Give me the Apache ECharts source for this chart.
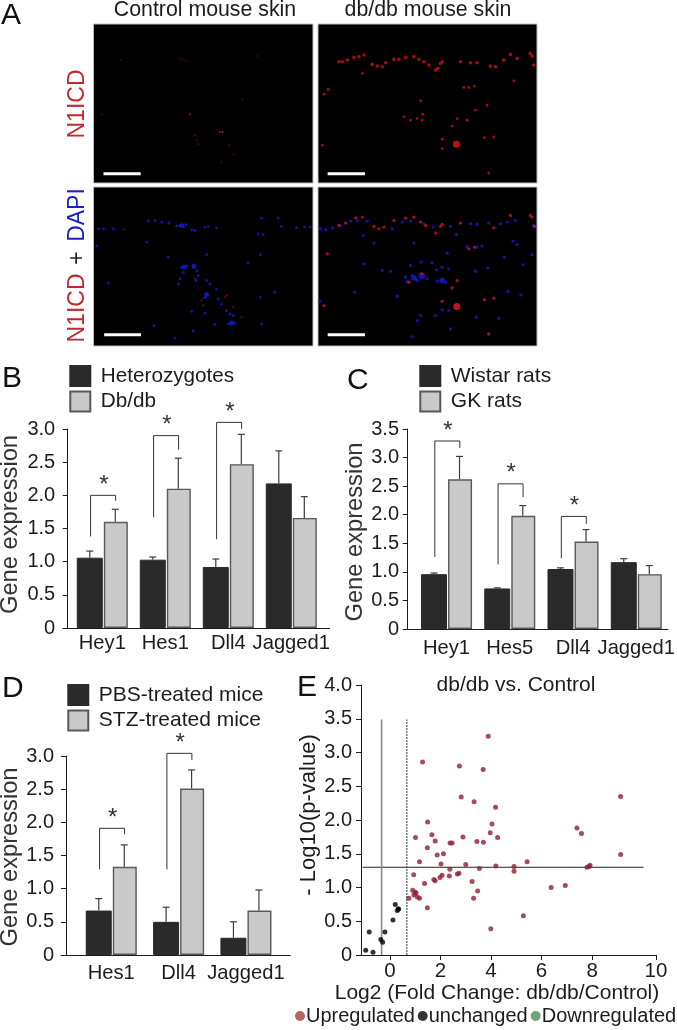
<!DOCTYPE html>
<html><head><meta charset="utf-8">
<style>html,body{margin:0;padding:0;background:#fff}#c{width:677px;height:1030px}</style>
<script src="https://cdn.jsdelivr.net/npm/echarts@6/dist/echarts.min.js"></script>
</head><body><div id="c"></div>
<script>
// ---- Panel B
const catsB = ['Hey1','Hes1','Dll4','Jagged1'];
const hetero = [1.06,1.03,0.92,2.18];
const heteroErr = [1.16,1.07,1.04,2.67];
const dbdb = [1.60,2.10,2.47,1.66];
const dbdbErr = [1.79,2.56,2.92,1.98];
const bracketsB = [[0,1.38,2.00,1.92],[1,1.67,2.90,2.69],[2,1.34,3.10,3.00]];
// ---- Panel C
const catsC = ['Hey1','Hes5','Dll4','Jagged1'];
const wistar = [0.96,0.71,1.05,1.17];
const wistarErr = [0.98,0.72,1.07,1.23];
const gk = [2.62,1.98,1.53,0.96];
const gkErr = [3.02,2.16,1.74,1.11];
const bracketsC = [[0,1.26,3.29,3.17],[1,1.13,2.54,2.31],[2,1.24,1.97,1.84]];
// ---- Panel D
const catsD = ['Hes1','Dll4','Jagged1'];
const pbs = [0.67,0.50,0.26];
const pbsErr = [0.85,0.72,0.50];
const stz = [1.33,2.51,0.67];
const stzErr = [1.66,2.79,0.98];
const bracketsD = [[0,1.29,1.91,1.82],[1,1.29,3.04,2.94]];
// ---- Panel E
const upregulated = [[9.13,2.35],[3.89,3.24],[1.29,2.86],[2.75,2.80],[3.69,2.75],[2.82,2.34],[3.33,2.27],[4.18,2.19],[1.49,1.97],[4.04,1.94],[3.97,1.81],[7.40,1.88],[7.58,1.80],[1.66,1.78],[1.01,1.74],[2.89,1.75],[4.26,1.74],[1.79,1.69],[3.44,1.68],[3.70,1.67],[2.38,1.66],[2.46,1.66],[1.48,1.59],[1.87,1.48],[2.12,1.50],[9.13,1.49],[1.17,1.38],[2.02,1.35],[3.00,1.34],[5.43,1.38],[4.19,1.32],[4.91,1.31],[3.54,1.28],[2.37,1.27],[7.88,1.31],[7.92,1.33],[7.80,1.30],[4.91,1.24],[0.94,1.19],[2.06,1.18],[1.98,1.15],[2.35,1.17],[2.67,1.20],[2.73,1.21],[1.74,1.12],[1.79,1.10],[3.25,1.09],[1.37,1.06],[3.47,0.95],[6.94,1.03],[6.38,1.00],[0.90,0.96],[1.00,0.93],[1.03,0.92],[0.95,0.89],[0.75,0.84],[1.09,0.86],[1.17,0.84],[3.31,0.84],[1.48,0.70],[5.28,0.58],[3.99,0.39]];
const unchanged = [[0.21,0.75],[0.34,0.68],[0.29,0.66],[0.33,0.68],[0.12,0.52],[-0.20,0.34],[-0.82,0.34],[-0.36,0.23],[-0.29,0.19],[-0.96,0.07],[-0.67,0.04]];
const downregulated = [];
const pThreshold = [[-1.08,1.30],[10.04,1.30]];
const foldLow = [[-0.33,0],[-0.33,3.49]];
const foldHigh = [[0.67,0],[0.67,3.49]];
const xTicksE = [0,2,4,6,8,10.53];
// ---- Panel A: fluorescent spots (zoomed picture units)
const tlDim = [[182,120],[360,115],[370,118],[380,122],[590,108],[405,345],[410,360],[415,372],[470,332],[508,375],[522,403],[485,425],[125,282],[548,238]];
const tlRed = [[480,335],[488,335],[390,282]];
const trEpidermis = [[75,125],[85,125],[100,120],[120,112],[135,110],[150,105],[175,133],[190,138],[205,140],[215,128],[240,118],[255,118],[275,112],[300,110],[315,118],[330,125],[345,135],[365,150],[380,130],[385,125],[372,145],[440,125],[470,128],[490,128],[530,138],[545,140],[570,120],[590,103],[610,115],[650,100],[655,108],[660,135]];
const trRed = [[450,202],[465,202],[482,198],[30,222],[42,208],[320,242],[270,290],[290,300],[310,295],[327,282],[325,300],[520,255],[485,270],[430,295],[460,300],[415,318],[385,357],[385,385],[512,352],[540,350],[525,458],[25,375],[600,182],[145,160]];
const trBlob = [[428,372]];
const blRed = [[190,137],[405,285],[500,335],[545,400],[425,350],[430,365],[495,340],[520,370]];
const blBlue = [[115,135],[130,135],[160,135],[265,112],[285,110],[305,115],[327,118],[350,127],[360,125],[370,128],[378,122],[395,138],[405,140],[435,130],[445,128],[470,132],[605,103],[655,103],[665,128],[710,132],[735,130],[752,130],[595,150],[610,152],[260,175],[110,187],[325,220],[440,212],[602,212],[565,237],[145,297],[365,250],[380,245],[400,245],[410,260],[370,265],[360,285],[355,300],[415,275],[408,290],[440,290],[450,300],[470,315],[440,330],[435,340],[475,345],[485,360],[500,380],[510,390],[520,395],[515,415],[525,418],[505,420],[435,388],[395,382],[602,340],[605,420],[465,422],[400,440],[345,462],[282,425],[645,325]];
const blBlueCore = [[365,125],[372,250],[402,248],[440,332],[515,417]];
const brRed = [[75,125],[95,118],[125,102],[145,100],[180,128],[195,135],[210,130],[240,110],[275,103],[300,100],[320,115],[335,125],[365,148],[380,128],[385,122],[440,118],[540,132],[590,95],[650,95],[655,100],[662,128],[465,195],[482,190],[325,270],[285,295],[430,290],[415,312],[540,343],[512,347],[385,352],[525,450],[40,210],[30,365]];
const brBlob = [[429,368]];
const brBlue = [[20,135],[35,138],[55,132],[80,125],[110,112],[130,110],[160,112],[235,135],[265,115],[290,112],[330,120],[358,130],[410,128],[470,120],[490,122],[525,118],[560,120],[580,115],[605,110],[660,125],[148,155],[428,152],[300,178],[180,178],[598,172],[610,182],[460,188],[490,190],[505,187],[400,208],[655,213],[572,220],[150,240],[322,235],[355,237],[290,245],[205,260],[230,262],[385,250],[405,255],[368,258],[522,252],[628,243],[485,262],[275,280],[280,292],[295,275],[305,285],[320,270],[330,278],[340,285],[310,290],[370,292],[385,288],[395,295],[122,325],[250,337],[582,323],[622,333],[18,352],[385,378],[405,380],[320,395],[310,410],[365,395],[488,400],[555,403],[295,458],[410,435]];
const brBlueCore = [[300,282],[322,278],[385,290]];
const scaleTL = [[130,460],[242,460]];
const scaleTR = [[41,460],[153,460]];
const scaleBL = [[132,452],[243,452]];
const scaleBR = [[41,452],[153,452]];

const FF = '"Liberation Sans", Arial, sans-serif';
const INK = '#1c1c1c';
const chart = echarts.init(document.getElementById('c'), null, {renderer:'canvas'});
const grids=[], xAxes=[], yAxes=[], series=[], legends=[];

function addPhoto(idx,box,xr,yr,sets,scale){
  grids.push({left:box[0],top:box[1],width:box[2],height:box[3],show:true,backgroundColor:'#000',borderColor:'#bdbdbd',borderWidth:1,outerBoundsMode:'none'});
  xAxes.push({gridIndex:idx,type:'value',min:xr[0],max:xr[1],show:false});
  yAxes.push({gridIndex:idx,type:'value',min:yr[0],max:yr[1],inverse:true,show:false});
  sets.forEach((s,k)=>series.push({type:'scatter',name:'spots'+idx+'-'+k,xAxisIndex:idx,yAxisIndex:idx,data:s.d,symbolSize:s.s,silent:true,itemStyle:{color:s.c}}));
  series.push({type:'line',name:'scale'+idx,xAxisIndex:idx,yAxisIndex:idx,data:scale,symbol:'none',silent:true,lineStyle:{color:'#fff',width:3},z:5});
}
addPhoto(0,[93.5,24,219.5,159],[100,760],[12,488],[{d:tlDim,s:2.5,c:'#4a0505'},{d:tlRed,s:2,c:'#d01818'}],scaleTL);
addPhoto(1,[318,24,219,159],[12,670],[12,488],[{d:trEpidermis,s:3.6,c:'#c81212'},{d:trRed,s:2.8,c:'#c81212'},{d:trBlob,s:7,c:'#f01515'}],scaleTR);
addPhoto(2,[93.5,187,219.5,159],[100,760],[10,486],[{d:blRed,s:2,c:'#8c1616'},{d:blBlue,s:3,c:'#1616c4'},{d:blBlueCore,s:5,c:'#1818d0'}],scaleBL);
addPhoto(3,[318,187,219,159],[12,670],[10,486],[{d:brBlue,s:3.4,c:'#1616c4'},{d:brBlueCore,s:5.5,c:'#1818d0'},{d:brRed,s:3.2,c:'#d2132a'},{d:brBlob,s:7,c:'#f01530'}],scaleBR);

const DARK='#2a2a2a', LIGHT='#c9c9c9';
function addBars(idx,cfg){
  grids.push({left:cfg.left,top:cfg.top,width:cfg.width,height:cfg.height,outerBoundsMode:'none'});
  xAxes.push({gridIndex:idx,type:'category',data:cfg.cats,axisTick:{show:false},axisLine:{show:false},
    axisLabel:{interval:0,color:INK,fontSize:20.2,fontFamily:FF,margin:cfg.xMargin}});
  yAxes.push({gridIndex:idx,type:'value',min:0,max:cfg.max,interval:0.5,offset:cfg.offset,splitLine:{show:false},
    name:'Gene expression',nameLocation:'middle',nameGap:cfg.nameGap,
    nameTextStyle:{color:'#333',fontSize:23.7,fontFamily:FF,padding:cfg.namePad},
    axisLine:{show:true,lineStyle:{color:INK,width:1}},axisTick:{show:true,length:5,lineStyle:{color:INK}},
    axisLabel:{color:INK,fontSize:20,fontFamily:FF,margin:cfg.yMargin,formatter:v=>v===0?'0':v.toFixed(1)}});
  series.push({type:'bar',name:cfg.names[0],xAxisIndex:idx,yAxisIndex:idx,data:cfg.a,barWidth:26,barGap:'4%',
    itemStyle:{color:DARK,borderColor:DARK,borderWidth:1}});
  series.push({type:'bar',name:cfg.names[1],xAxisIndex:idx,yAxisIndex:idx,data:cfg.b,barWidth:24,
    itemStyle:{color:LIGHT,borderColor:'#595959',borderWidth:1.4}});
  const errs=(vals,tops,off,nm)=>({type:'custom',name:nm,xAxisIndex:idx,yAxisIndex:idx,silent:true,z:4,
    data:vals.map((v,i)=>[i,v,tops[i]]),encode:{x:0,y:2},
    renderItem:(p,api)=>{const a=api.coord([api.value(0),api.value(1)]),b=api.coord([api.value(0),api.value(2)]);
      const x=a[0]+off,st={stroke:'#3c3c3c',lineWidth:1.2,fill:null};
      return {type:'group',children:[
        {type:'line',shape:{x1:x,y1:a[1],x2:x,y2:b[1]},style:st},
        {type:'line',shape:{x1:x-3.5,y1:b[1],x2:x+3.5,y2:b[1]},style:st}]};}});
  series.push(errs(cfg.a,cfg.aErr,-12.5,cfg.names[0]+' error'));
  series.push(errs(cfg.b,cfg.bErr,13,cfg.names[1]+' error'));
  series.push({type:'custom',name:'significance'+idx,xAxisIndex:idx,yAxisIndex:idx,silent:true,z:4,
    data:cfg.br,encode:{x:0,y:2},
    renderItem:(p,api)=>{const i=api.value(0),l=api.coord([i,api.value(1)]),t=api.coord([i,api.value(2)]),r=api.coord([i,api.value(3)]);
      const x1=l[0]-11.7,x2=l[0]+13.3;
      return {type:'group',children:[
        {type:'polyline',shape:{points:[[x1,l[1]],[x1,t[1]],[x2,t[1]],[x2,r[1]]]},style:{stroke:'#333',lineWidth:1,fill:null}},
        {type:'text',x:l[0]+1.5,y:t[1]-10,style:{text:'*',font:'24px '+FF,fill:'#333',textAlign:'center',textVerticalAlign:'middle'}}]};}});
  legends.push({orient:'vertical',left:cfg.legLeft,top:cfg.legTop,padding:0,itemWidth:20,itemHeight:20,itemGap:3.5,selectedMode:false,icon:'rect',
    data:cfg.names,textStyle:{color:INK,fontSize:cfg.legFont,fontFamily:FF,padding:[0,0,0,5.5]}});
}
addBars(4,{left:70.8,width:252,top:429,height:199,cats:catsB,max:3,offset:3.1,xMargin:5,yMargin:12.5,nameGap:45,namePad:[0,0,0,8],
  a:hetero,aErr:heteroErr,b:dbdb,bErr:dbdbErr,br:bracketsB,names:['Heterozygotes','Db/db'],legLeft:69.3,legTop:365,legFont:20.7});
addBars(5,{left:414.9,width:253,top:429,height:200,cats:catsC,max:3.5,offset:7.2,xMargin:9,yMargin:8.7,nameGap:38,namePad:[0,6,0,0],
  a:wistar,aErr:wistarErr,b:gk,bErr:gkErr,br:bracketsC,names:['Wistar rats','GK rats'],legLeft:419.3,legTop:365,legFont:21});
addBars(6,{left:77.6,width:202,top:756,height:199,cats:catsD,max:3,offset:11.6,xMargin:8,yMargin:12,nameGap:43.5,namePad:[0,3,0,0],
  a:pbs,aErr:pbsErr,b:stz,bErr:stzErr,br:bracketsD,names:['PBS-treated mice','STZ-treated mice'],legLeft:67.3,legTop:684,legFont:21});

// Panel E
grids.push({left:361,top:685,width:295,height:270,outerBoundsMode:'none'});
xAxes.push({gridIndex:7,type:'value',min:-1.146,max:10.53,splitLine:{show:false},
  name:'Log2 (Fold Change: db/db/Control)',nameLocation:'middle',nameGap:28,
  nameTextStyle:{color:INK,fontSize:21,fontFamily:FF,padding:[0,23,0,0]},
  axisLine:{show:true,onZero:false,lineStyle:{color:INK,width:1}},
  axisTick:{show:true,length:5,customValues:xTicksE,lineStyle:{color:INK}},
  axisLabel:{color:INK,fontSize:20.5,fontFamily:FF,margin:6,customValues:xTicksE,formatter:v=>v>10?'10':String(v)}});
yAxes.push({gridIndex:7,type:'value',min:0,max:4,interval:0.5,splitLine:{show:false},
  name:'- Log10(p-value)',nameLocation:'middle',nameGap:40,
  nameTextStyle:{color:INK,fontSize:22,fontFamily:FF,padding:[0,0,0,10]},
  axisLine:{show:true,onZero:false,lineStyle:{color:INK,width:1}},axisTick:{show:true,length:5,lineStyle:{color:INK}},
  axisLabel:{color:INK,fontSize:20,fontFamily:FF,margin:9,formatter:v=>v===0?'0':v.toFixed(1)}});
const ln=(name,data,st)=>({type:'line',name,xAxisIndex:7,yAxisIndex:7,data,symbol:'none',silent:true,lineStyle:st,z:1});
series.push(ln('p threshold',pThreshold,{color:'#222',width:1}));
series.push(ln('fold low',foldLow,{color:'#8a8a8a',width:1.6}));
series.push(ln('fold high',foldHigh,{color:'#333',width:1,type:[2,1]}));
const sc=(name,data,color)=>({type:'scatter',name,xAxisIndex:7,yAxisIndex:7,data,symbolSize:5,itemStyle:{color},z:3,clip:false});
series.push(sc('Upregulated',upregulated,'#8e1f33'));
series.push(sc('unchanged',unchanged,'#000'));
series.push(sc('Downregulated',downregulated,'#4f8a5b'));
[['Upregulated','#a83c3c',295],['unchanged','#000',417.7],['Downregulated','#4f8a5b',530.7]].forEach(l=>{
  legends.push({left:l[2],top:1006,padding:0,itemWidth:10,itemHeight:10,selectedMode:false,icon:'circle',
    data:[{name:l[0],itemStyle:{color:l[1]}}],
    textStyle:{color:INK,fontSize:20,fontFamily:FF,padding:[0,0,0,-4]}});
});

const letter=(t,left,top)=>({text:t,left,top,padding:0,textStyle:{color:'#111',fontSize:30,fontWeight:'normal',fontFamily:FF}});
const heading=(t,cx,top,fs)=>({text:t,left:cx,top,padding:0,textAlign:'center',textStyle:{color:INK,fontSize:fs,fontWeight:'normal',fontFamily:FF}});
const titles=[letter('A',1,1),letter('B',2,364),letter('C',347,366),letter('D',2,674),letter('E',297,673),
  heading('Control mouse skin',205,0,21.3),heading('db/db mouse skin',428,0,21.3),heading('db/db vs. Control',516,675,21)];
const vt=(text,x,y,fill,size)=>({type:'text',x,y,rotation:Math.PI/2,silent:true,style:{text,fill,font:(size||23)+'px '+FF,textAlign:'center',textVerticalAlign:'middle'}});
const hl=(x1,x2,y)=>({type:'line',silent:true,shape:{x1,y1:y,x2,y2:y},style:{stroke:INK,lineWidth:1}});
const graphic=[vt('N1ICD',78,104,'#c4262e'),vt('N1ICD',78,308,'#c4262e'),vt('+',78,258,'#222'),vt('DAPI',78,215,'#1a1fc0'),
  hl(62.7,330,628.5),hl(407.7,668.3,629.5),hl(60.7,290.7,955.5)];

chart.setOption({animation:false,textStyle:{fontFamily:FF},title:titles,grid:grids,xAxis:xAxes,yAxis:yAxes,series,legend:legends,graphic});
</script></body></html>
